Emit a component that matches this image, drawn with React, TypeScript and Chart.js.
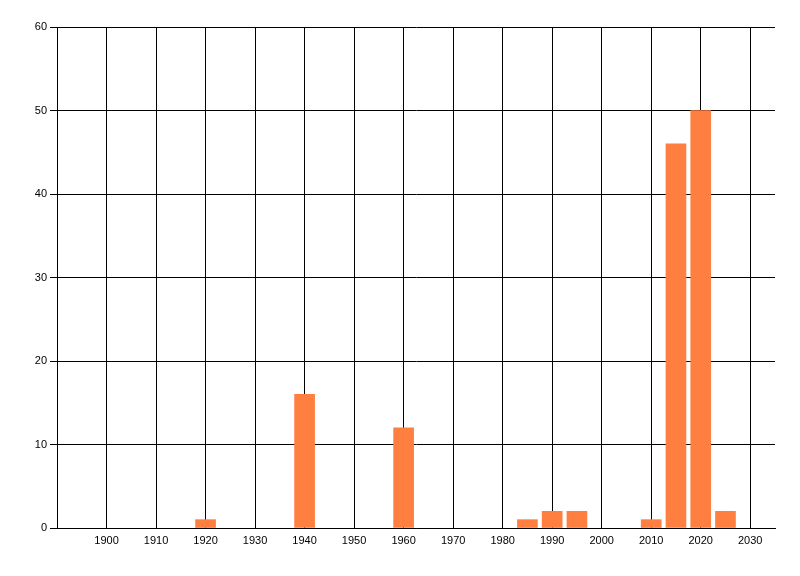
import React, { useEffect, useRef } from "react";
import { Chart, registerables } from "chart.js";

Chart.register(...registerables);

const years = [1920, 1940, 1960, 1985, 1990, 1995, 2010, 2015, 2020, 2025];
const counts = [1, 16, 12, 1, 2, 2, 1, 46, 50, 2];
const xTickValues = [1900, 1910, 1920, 1930, 1940, 1950, 1960, 1970, 1980, 1990, 2000, 2010, 2020, 2030];
const yTickValues = [0, 10, 20, 30, 40, 50, 60];

export default function App() {
  const ref = useRef<HTMLCanvasElement | null>(null);
  useEffect(() => {
    if (!ref.current) return;
    const font = { family: "'Liberation Sans', Arial, sans-serif", size: 11 };
    const chart = new Chart(ref.current, {
      type: "bar",
      data: {
        datasets: [
          {
            data: years.map((y, i) => ({ x: y, y: counts[i] })),
            backgroundColor: "#FF7F41",
            borderWidth: 0,
            barThickness: 20,
          },
        ],
      },
      options: {
        animation: false,
        responsive: false,
        maintainAspectRatio: false,
        layout: { padding: { top: 27, right: 25, left: 0, bottom: 0 } },
        plugins: { legend: { display: false }, tooltip: { enabled: false } },
        scales: {
          x: {
            type: "linear",
            min: 1890,
            max: 2035,
            offset: false,
            afterBuildTicks: (scale: any) => {
              scale.ticks = xTickValues.map((v) => ({ value: v }));
            },
            afterFit: (scale: any) => {
              scale.height = 48;
            },
            ticks: {
              color: "#000",
              font,
              padding: 6,
              maxRotation: 0,
              autoSkip: false,
              callback: (v: any) => String(v),
            },
            grid: { color: "#000", lineWidth: 1, drawTicks: false, offset: false },
            border: { color: "#000", width: 1 },
          },
          y: {
            min: 0,
            max: 60,
            afterBuildTicks: (scale: any) => {
              scale.ticks = yTickValues.map((v) => ({ value: v }));
            },
            afterFit: (scale: any) => {
              scale.width = 57;
            },
            ticks: { color: "#000", font, padding: 3 },
            grid: { color: "#000", lineWidth: 1, drawTicks: true, tickLength: 7 },
            border: { color: "#000", width: 1 },
          },
        },
      },
    });
    return () => chart.destroy();
  }, []);
  return (
    <div style={{ position: "fixed", left: 0, top: 0, width: 800, height: 576, background: "#fff" }}>
      <canvas ref={ref} width={800} height={576} style={{ display: "block" }} />
    </div>
  );
}
